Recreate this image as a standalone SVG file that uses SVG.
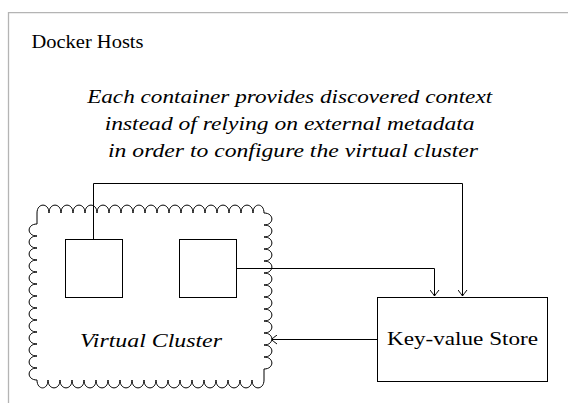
<svg xmlns="http://www.w3.org/2000/svg" width="568" height="403" viewBox="0 0 568 403">
  <style>
    .frame { fill: none; stroke: #b4b4b4; stroke-width: 1.3; }
    .box { fill: #ffffff; stroke: #000000; stroke-width: 1; }
    .line { fill: none; stroke: #000000; stroke-width: 1; }
    .cloud { fill: #ffffff; stroke: #000000; stroke-width: 1; stroke-linejoin: round; }
    .txt { font-family: 'Times New Roman', 'Liberation Serif', 'DejaVu Serif', 'Noto Serif', Georgia, Times, serif; fill: #000000; }
    .it { font-style: italic; }
  </style>
  <defs>
    <marker id="to" viewBox="-7 -5 8 10" refX="0" refY="0" markerWidth="8" markerHeight="10" markerUnits="userSpaceOnUse" orient="auto">
      <path d="M-6,-4.5 Q-1.5,-1 0,0 Q-1.5,1 -6,4.5" fill="none" stroke="#000" stroke-width="1"/>
    </marker>
  </defs>

  <rect width="568" height="403" fill="#ffffff"/>

  <!-- host frame (open at right and bottom edges) -->
  <g id="docker-hosts">
    <path class="frame" d="M8.5,403 V12.7 H568"/>
    <text class="txt" x="31.5" y="47.5" font-size="19" textLength="112" lengthAdjust="spacingAndGlyphs">Docker Hosts</text>
  </g>

  <g id="caption">
    <text class="txt it" font-size="19" text-anchor="middle">
      <tspan x="292" y="103" textLength="405" lengthAdjust="spacingAndGlyphs">Each container provides discovered context</tspan>
      <tspan x="292" y="130" textLength="370" lengthAdjust="spacingAndGlyphs">instead of relying on external metadata</tspan>
      <tspan x="293" y="157" textLength="370" lengthAdjust="spacingAndGlyphs">in order to configure the virtual cluster</tspan>
    </text>
  </g>

  <!-- connectors drawn before the cluster; the short legs crossing the cloud border are redrawn on top below -->
  <g id="connectors">
    <path class="line" d="M93.5,239 V183.5 H462.5 V296" marker-end="url(#to)"/>
    <path class="line" d="M236,268.5 H434.5 V296" marker-end="url(#to)"/>
    <path class="line" d="M377,339.5 H271" marker-end="url(#to)"/>
  </g>

  <g id="virtual-cluster">
    <path class="cloud" d="M37,213
      c0,-10.5 12,-10.5 12,0 c0,-10.5 12,-10.5 12,0 c0,-10.5 12,-10.5 12,0 c0,-10.5 12,-10.5 12,0 c0,-10.5 12,-10.5 12,0
      c0,-10.5 12,-10.5 12,0 c0,-10.5 12,-10.5 12,0 c0,-10.5 12,-10.5 12,0 c0,-10.5 12,-10.5 12,0 c0,-10.5 12,-10.5 12,0
      c0,-10.5 12,-10.5 12,0 c0,-10.5 12,-10.5 12,0 c0,-10.5 12,-10.5 12,0 c0,-10.5 12,-10.5 12,0 c0,-10.5 12,-10.5 12,0
      c0,-10.5 12,-10.5 12,0 c0,-10.5 12,-10.5 12,0 c0,-10.5 12,-10.5 12,0 c0,-10.5 11,-10.5 11,0
      c10.5,0 10.5,12 0,12 c10.5,0 10.5,12 0,12 c10.5,0 10.5,12 0,12 c10.5,0 10.5,12 0,12 c10.5,0 10.5,12 0,12
      c10.5,0 10.5,12 0,12 c10.5,0 10.5,12 0,12 c10.5,0 10.5,12 0,12 c10.5,0 10.5,12 0,12 c10.5,0 10.5,12 0,12
      c10.5,0 10.5,12 0,12 c10.5,0 10.5,12 0,12 c10.5,0 10.5,12 0,12
      V380
      c0,10.5 -12,10.5 -12,0 c0,10.5 -12,10.5 -12,0 c0,10.5 -12,10.5 -12,0 c0,10.5 -12,10.5 -12,0 c0,10.5 -12,10.5 -12,0
      c0,10.5 -12,10.5 -12,0 c0,10.5 -12,10.5 -12,0 c0,10.5 -12,10.5 -12,0 c0,10.5 -12,10.5 -12,0 c0,10.5 -12,10.5 -12,0
      c0,10.5 -12,10.5 -12,0 c0,10.5 -12,10.5 -12,0 c0,10.5 -12,10.5 -12,0 c0,10.5 -12,10.5 -12,0 c0,10.5 -12,10.5 -12,0
      c0,10.5 -12,10.5 -12,0 c0,10.5 -12,10.5 -12,0 c0,10.5 -12,10.5 -12,0 c0,10.5 -11,10.5 -11,0
      c-10.5,0 -10.5,-12 0,-12 c-10.5,0 -10.5,-12 0,-12 c-10.5,0 -10.5,-12 0,-12 c-10.5,0 -10.5,-12 0,-12 c-10.5,0 -10.5,-12 0,-12
      c-10.5,0 -10.5,-12 0,-12 c-10.5,0 -10.5,-12 0,-12 c-10.5,0 -10.5,-12 0,-12 c-10.5,0 -10.5,-12 0,-12 c-10.5,0 -10.5,-12 0,-12
      c-10.5,0 -10.5,-12 0,-12 c-10.5,0 -10.5,-12 0,-12 c-10.5,0 -10.5,-12 0,-12
      Z"/>
    <text class="txt it" x="151" y="347" font-size="19" text-anchor="middle" textLength="142" lengthAdjust="spacingAndGlyphs">Virtual Cluster</text>
  </g>

  <!-- connector legs crossing the cloud border -->
  <g id="connector-overlay">
    <path class="line" d="M93.5,239 V205"/>
    <path class="line" d="M236,268.5 H275"/>
  </g>

  <g id="container-1">
    <rect class="box" x="65.5" y="239.5" width="57" height="58"/>
  </g>

  <g id="container-2">
    <rect class="box" x="179.5" y="239.5" width="57" height="58"/>
  </g>

  <g id="key-value-store">
    <rect class="box" x="377.5" y="297.5" width="170" height="84"/>
    <text class="txt" x="462.5" y="345" font-size="19" text-anchor="middle" textLength="151" lengthAdjust="spacingAndGlyphs">Key-value Store</text>
  </g>
</svg>
